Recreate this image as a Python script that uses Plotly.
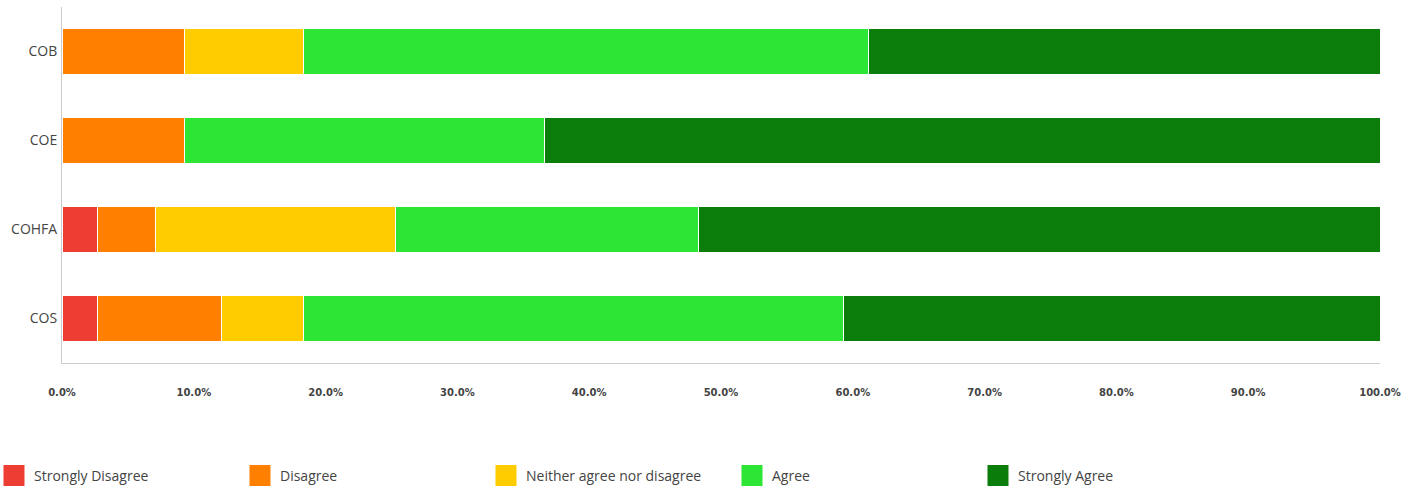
import plotly.graph_objects as go

categories = ["COB", "COE", "COHFA", "COS"]
series_names = ["Strongly Disagree", "Disagree", "Neither agree nor disagree", "Agree", "Strongly Agree"]
strongly_disagree = [0.0, 0.0, 2.7, 2.7]
disagree = [9.3, 9.3, 4.4, 9.4]
neither = [9.0, 0.0, 18.2, 6.2]
agree = [42.9, 27.3, 23.0, 41.0]
strongly_agree = [38.8, 63.4, 51.7, 40.7]
tick_values = [0, 10, 20, 30, 40, 50, 60, 70, 80, 90, 100]
tick_labels = ["0.0%", "10.0%", "20.0%", "30.0%", "40.0%", "50.0%", "60.0%", "70.0%", "80.0%", "90.0%", "100.0%"]

colors = ["#EE3D32", "#FF8000", "#FFCC00", "#2CE535", "#0A7D0A"]
values = [strongly_disagree, disagree, neither, agree, strongly_agree]

fig = go.Figure()
for name, vals, col in zip(series_names, values, colors):
    fig.add_trace(go.Bar(
        y=categories, x=vals, name=name, orientation="h",
        marker=dict(color=col, line=dict(color="white", width=1)),
        showlegend=False, legendgroup=name,
    ))
for name, col in zip(series_names, colors):
    fig.add_trace(go.Scatter(
        x=[None], y=[None], mode="markers", name=name, legendgroup=name,
        marker=dict(symbol="square", size=22, color=col, line=dict(color=col, width=5)),
    ))

fig.update_layout(
    width=1417, height=489,
    margin=dict(l=62, r=37, t=7, b=126, autoexpand=False),
    barmode="stack", bargap=0.49,
    plot_bgcolor="white", paper_bgcolor="white",
    font=dict(family="Open Sans", color="#444444"),
    legend=dict(
        orientation="h", x=-0.0516, xanchor="left", y=-0.317, yanchor="middle",
        entrywidth=201, entrywidthmode="pixels", itemsizing="trace",
        font=dict(family="Open Sans", size=14, color="#444444"),
        traceorder="normal",
    ),
    xaxis=dict(
        range=[0, 100], tickvals=tick_values, ticktext=tick_labels,
        showgrid=False, zeroline=False, showline=True, linecolor="#cccccc", linewidth=1,
        ticks="", ticklabelstandoff=20,
        tickfont=dict(family="DejaVu Sans", size=10, color="#444444", weight="bold"),
        fixedrange=True,
    ),
    yaxis=dict(
        categoryorder="array", categoryarray=categories, autorange="reversed",
        showgrid=False, zeroline=False, showline=True, linecolor="#cccccc", linewidth=1,
        ticks="", ticklabelstandoff=1,
        tickfont=dict(family="Open Sans", size=14, color="#444444"),
    ),
)

fig.write_html(
    "out.html",
    config={"displayModeBar": False},
    post_script="document.body.style.margin='0';document.body.style.padding='0';",
)
